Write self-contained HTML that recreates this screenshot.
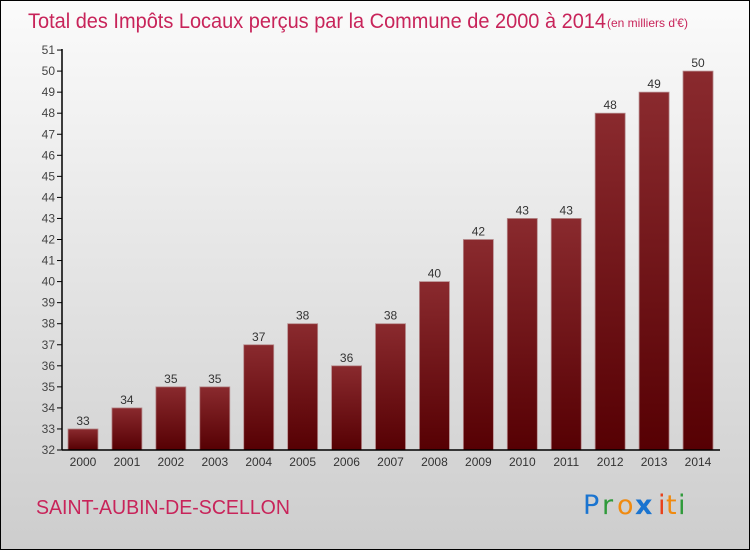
<!DOCTYPE html>
<html><head><meta charset="utf-8"><style>
html,body{margin:0;padding:0}
body{width:750px;height:550px;overflow:hidden;font-family:"Liberation Sans",sans-serif}
</style></head><body>
<svg width="750" height="550" viewBox="0 0 750 550">
<defs>
<linearGradient id="bg" x1="0" y1="0" x2="0" y2="1"><stop offset="0" stop-color="#fbfbfb"/><stop offset="1" stop-color="#cdcdcd"/></linearGradient>
<linearGradient id="bar" x1="0" y1="0" x2="0" y2="1"><stop offset="0" stop-color="#8a2a2e"/><stop offset="1" stop-color="#560003"/></linearGradient>
</defs>
<rect x="0.5" y="0.5" width="749" height="549" fill="url(#bg)" stroke="#000"/>
<text x="28" y="28" font-size="21" fill="#c8245a" textLength="578" lengthAdjust="spacingAndGlyphs">Total des Impôts Locaux perçus par la Commune de 2000 à 2014</text>
<text x="607" y="27" font-size="12" fill="#c8245a">(en milliers d'€)</text>
<g id="plot"></g>
<text x="36" y="514" font-size="20" fill="#c8245a" textLength="254" lengthAdjust="spacingAndGlyphs">SAINT-AUBIN-DE-SCELLON</text>
<g font-size="27" font-family="'DejaVu Sans',sans-serif">
<text x="583" y="514" fill="#1a74d0">P</text><text x="602" y="514" fill="#2f9a3a">r</text><text x="617" y="514" fill="#f08a10">o</text><text x="635" y="514" fill="#1a74d0" font-weight="bold">x</text><text x="658" y="514" fill="#e8401a">i</text><text x="666" y="514" fill="#f08a10">t</text><text x="678" y="514" fill="#2f9a3a">i</text>
</g>
</svg>
<script>
const years=["2000","2001","2002","2003","2004","2005","2006","2007","2008","2009","2010","2011","2012","2013","2014"];
const values=[33,34,35,35,37,38,36,38,40,42,43,43,48,49,50];
const yTicks=[32,33,34,35,36,37,38,39,40,41,42,43,44,45,46,47,48,49,50,51];
const NS="http://www.w3.org/2000/svg";
const g=document.getElementById("plot");
const y=v=>450-(v-32)*21.05;
const x=i=>68+i*43.93;
function mk(t,a){const e=document.createElementNS(NS,t);for(const k in a)e.setAttribute(k,a[k]);g.appendChild(e);return e;}
yTicks.forEach(t=>{
  const l=mk("line",{x1:57,x2:62,y1:y(t),y2:y(t),stroke:"#000"});
  
  
  const tx=mk("text",{x:55,y:y(t)+4,"text-anchor":"end","font-size":"12",fill:"#444"});
  tx.textContent=t;
  
  
});
values.forEach((v,i)=>{
  const r=mk("rect",{x:x(i),y:y(v),width:30,height:450-y(v),fill:"url(#bar)",stroke:"#b58a8c","stroke-width":"0.8"});
  
  
  const vl=mk("text",{x:x(i)+15,y:y(v)-4,"text-anchor":"middle","font-size":"12",fill:"#333"});
  vl.textContent=v;
  
  
  const xl=mk("text",{x:x(i)+15,y:466,"text-anchor":"middle","font-size":"12",fill:"#333"});
  xl.textContent=years[i];
  
  
});
const ya=mk("line",{x1:62,x2:62,y1:y(51)-1,y2:450,stroke:"#000","stroke-width":"1.5"});


const xa=mk("line",{x1:62,x2:720,y1:450,y2:450,stroke:"#000","stroke-width":"1.5"});


</script>
</body></html>
